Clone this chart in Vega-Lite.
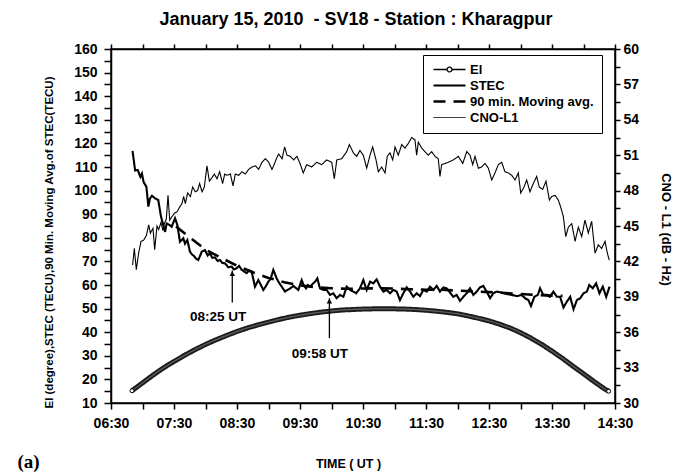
{
  "$schema": "https://vega.github.io/schema/vega-lite/v6.json",
  "width": 504,
  "height": 354,
  "autosize": "none",
  "padding": {"left": 111, "top": 49, "right": 68, "bottom": 72},
  "background": "white",
  "title": {
    "text": "January 15, 2010 \u00a0- SV18 - Station : Kharagpur",
    "font": "Liberation Sans",
    "fontSize": 18,
    "fontWeight": "bold",
    "color": "black",
    "offset": 13,
    "dx": -7
  },
  "config": {
    "view": {"stroke": "black", "strokeWidth": 1.5},
    "axis": {
      "grid": false,
      "domainColor": "black",
      "domainWidth": 1.5,
      "tickColor": "black",
      "tickWidth": 1.5,
      "labelFont": "Liberation Sans",
      "labelFontWeight": "bold",
      "labelFontSize": 14,
      "labelColor": "black",
      "labelOverlap": false,
      "labelFlush": false,
      "titleFont": "Liberation Sans",
      "titleFontWeight": "bold",
      "titleColor": "black"
    }
  },
  "datasets": {
    "el": [
      {"t":410,"v":15.2},{"t":420,"v":18.5},{"t":430,"v":21.8},{"t":440,"v":24.9},{"t":450,"v":27.6},{"t":460,"v":30.2},{"t":470,"v":32.6},{"t":480,"v":34.8},{"t":490,"v":36.8},{"t":500,"v":38.6},{"t":510,"v":40.3},{"t":520,"v":41.8},{"t":530,"v":43.1},{"t":540,"v":44.3},{"t":550,"v":45.4},{"t":560,"v":46.4},{"t":570,"v":47.2},{"t":580,"v":47.9},{"t":590,"v":48.5},{"t":600,"v":49.0},{"t":610,"v":49.4},{"t":620,"v":49.6},{"t":630,"v":49.8},{"t":640,"v":49.9},{"t":650,"v":49.9},{"t":660,"v":49.9},{"t":670,"v":49.8},{"t":680,"v":49.6},{"t":690,"v":49.3},{"t":700,"v":48.9},{"t":710,"v":48.4},{"t":720,"v":47.8},{"t":730,"v":46.9},{"t":740,"v":45.9},{"t":750,"v":44.8},{"t":760,"v":43.4},{"t":770,"v":41.8},{"t":780,"v":39.8},{"t":790,"v":37.5},{"t":800,"v":34.9},{"t":810,"v":32.0},{"t":820,"v":28.9},{"t":830,"v":25.6},{"t":840,"v":22.4},{"t":850,"v":19.1},{"t":860,"v":16.0},{"t":864,"v":15.0}
    ],
    "stec": [
      {"t":410.5,"v":116.8},{"t":413,"v":108.5},{"t":415.5,"v":108.7},{"t":418,"v":105.8},{"t":419.5,"v":107.2},{"t":421,"v":103.7},{"t":423.7,"v":101.6},{"t":425.6,"v":93.2},{"t":427,"v":96.5},{"t":429,"v":97.8},{"t":432,"v":96.7},{"t":435,"v":96},{"t":437.6,"v":89},{"t":439.8,"v":85.4},{"t":441.5,"v":82.5},{"t":443,"v":86.1},{"t":445.5,"v":85.5},{"t":447.8,"v":84.7},{"t":451,"v":88.3},{"t":453.2,"v":85.4},{"t":455.7,"v":78.3},{"t":458.9,"v":79.8},{"t":460.5,"v":77.5},{"t":462.7,"v":79.1},{"t":465.2,"v":74.1},{"t":467,"v":73},{"t":469,"v":72.3},{"t":471,"v":71.2},{"t":473.1,"v":70.6},{"t":474.5,"v":72},{"t":476.4,"v":74.1},{"t":479.5,"v":74.8},{"t":482,"v":72.5},{"t":484.3,"v":73.4},{"t":486.5,"v":71.5},{"t":489,"v":71.7},{"t":491.5,"v":70.2},{"t":493.8,"v":70.6},{"t":496,"v":69.3},{"t":498.6,"v":69.2},{"t":501.7,"v":67.5},{"t":505,"v":67.8},{"t":507,"v":66.6},{"t":509.7,"v":67.1},{"t":512,"v":68.1},{"t":514.5,"v":66.4},{"t":517,"v":65.7},{"t":519.2,"v":65},{"t":521.5,"v":66.2},{"t":524,"v":65.6},{"t":527.1,"v":59.3},{"t":530.3,"v":62.1},{"t":532.5,"v":60.2},{"t":535.1,"v":57.9},{"t":537.5,"v":59.5},{"t":539.8,"v":61.4},{"t":542,"v":62.5},{"t":544.6,"v":66.4},{"t":547.8,"v":62.8},{"t":550,"v":61},{"t":552.6,"v":59.3},{"t":555.7,"v":57.2},{"t":558,"v":57.9},{"t":560.5,"v":58.5},{"t":563.6,"v":59.6},{"t":566,"v":58.8},{"t":568.4,"v":57.9},{"t":571.6,"v":62.1},{"t":573.5,"v":59.8},{"t":575.7,"v":58.6},{"t":577.5,"v":60},{"t":579.5,"v":59.3},{"t":582.7,"v":60.7},{"t":584.6,"v":61.5},{"t":586.5,"v":62.8},{"t":589,"v":58.6},{"t":592.2,"v":57.9},{"t":595.4,"v":57.9},{"t":598.6,"v":55.8},{"t":601.7,"v":56.5},{"t":604.9,"v":54.4},{"t":608.1,"v":55.8},{"t":611.3,"v":55},{"t":614.5,"v":59.3},{"t":617.6,"v":57.9},{"t":620.8,"v":57.2},{"t":623.5,"v":56.5},{"t":627.1,"v":58.6},{"t":630.3,"v":62.1},{"t":633.5,"v":57.9},{"t":636.7,"v":61.4},{"t":639.8,"v":60.7},{"t":643,"v":62.4},{"t":646.2,"v":59.3},{"t":649.4,"v":57.2},{"t":652.6,"v":57.9},{"t":655.7,"v":56.5},{"t":658.9,"v":57.9},{"t":662.1,"v":57.2},{"t":665.2,"v":53.6},{"t":668.4,"v":56.5},{"t":671.6,"v":59},{"t":674.8,"v":57.2},{"t":678,"v":55},{"t":681.1,"v":56.5},{"t":684.3,"v":55.3},{"t":687.5,"v":57.9},{"t":690.7,"v":57.2},{"t":693.8,"v":59.3},{"t":697,"v":57.9},{"t":700.2,"v":59.6},{"t":703.3,"v":57.2},{"t":706.5,"v":59},{"t":709.7,"v":58.6},{"t":712.9,"v":56.8},{"t":716,"v":55},{"t":719.2,"v":55.8},{"t":722.4,"v":53.3},{"t":725.6,"v":55},{"t":728.8,"v":56.5},{"t":731.9,"v":58.6},{"t":735.1,"v":55.8},{"t":738.3,"v":57.2},{"t":741.4,"v":59},{"t":744.6,"v":59.6},{"t":747.8,"v":57.2},{"t":751,"v":54.4},{"t":754.1,"v":56.5},{"t":757.3,"v":57.2},{"t":762.1,"v":56.8},{"t":766.9,"v":56.2},{"t":771.6,"v":55.8},{"t":776.4,"v":55.3},{"t":781.1,"v":55.8},{"t":784.3,"v":54.4},{"t":787.5,"v":53.6},{"t":790,"v":51.1},{"t":793.2,"v":55},{"t":796.5,"v":55.8},{"t":798.6,"v":58.6},{"t":801.7,"v":55.8},{"t":805,"v":55.8},{"t":808,"v":55},{"t":811.3,"v":57.2},{"t":814.6,"v":55},{"t":817.7,"v":55},{"t":820.9,"v":50.5},{"t":824.1,"v":52.9},{"t":827.3,"v":55},{"t":830.5,"v":49.7},{"t":833.7,"v":53.6},{"t":836.9,"v":54.4},{"t":840,"v":56.5},{"t":843.2,"v":57.2},{"t":845.5,"v":60},{"t":848.8,"v":58.6},{"t":852,"v":60.7},{"t":855.2,"v":56.5},{"t":858.4,"v":59.3},{"t":861.6,"v":55},{"t":864.8,"v":59.3}
    ],
    "avg": [
      {"t":452,"v":84.8},{"t":465,"v":80.2},{"t":480,"v":75},{"t":495,"v":71.5},{"t":510,"v":68.2},{"t":525,"v":65.4},{"t":540,"v":63},{"t":555,"v":61.2},{"t":570,"v":59.9},{"t":585,"v":59},{"t":600,"v":58.6},{"t":615,"v":58.4},{"t":630,"v":58.5},{"t":645,"v":58.6},{"t":660,"v":58.5},{"t":675,"v":58.2},{"t":690,"v":58},{"t":705,"v":58},{"t":720,"v":57.6},{"t":735,"v":57.3},{"t":750,"v":57},{"t":765,"v":56.6},{"t":780,"v":56.2},{"t":795,"v":55.8},{"t":810,"v":55.5},{"t":820,"v":55.4}
    ],
    "cno": [
      {"t":410.6,"v":41.7},{"t":412.2,"v":43.1},{"t":414.1,"v":41.3},{"t":416.3,"v":42.7},{"t":418.6,"v":43.7},{"t":421.1,"v":43.8},{"t":423.7,"v":44.2},{"t":425.9,"v":45.1},{"t":427.5,"v":44.4},{"t":430,"v":44.8},{"t":431.6,"v":43},{"t":433.8,"v":45},{"t":435.4,"v":44.7},{"t":437.6,"v":45.3},{"t":439.5,"v":44.6},{"t":440.8,"v":45.2},{"t":442.7,"v":45.6},{"t":444.3,"v":47.6},{"t":445.9,"v":45.5},{"t":448.1,"v":45.8},{"t":450.6,"v":46.1},{"t":452.9,"v":46.2},{"t":455.4,"v":46.6},{"t":457.6,"v":46.9},{"t":459.2,"v":47.5},{"t":460.8,"v":46.9},{"t":463,"v":47.8},{"t":465.6,"v":47.5},{"t":467.8,"v":48.3},{"t":470.3,"v":47.9},{"t":472.5,"v":48},{"t":474.4,"v":48.6},{"t":476.7,"v":47.9},{"t":478.9,"v":48.3},{"t":481.4,"v":50.1},{"t":483.7,"v":48.8},{"t":486.2,"v":49.1},{"t":488.4,"v":49.4},{"t":491,"v":49},{"t":493.5,"v":49.6},{"t":496.3,"v":48.6},{"t":498.3,"v":49.4},{"t":500.5,"v":49.3},{"t":503.7,"v":49.4},{"t":506.2,"v":48.4},{"t":508.4,"v":49.4},{"t":511.6,"v":49.3},{"t":514.8,"v":49.6},{"t":517.9,"v":49.4},{"t":521.1,"v":49.8},{"t":524.3,"v":50},{"t":527.5,"v":50.1},{"t":530.6,"v":49.8},{"t":533.8,"v":50.4},{"t":537,"v":50.7},{"t":540.2,"v":50.4},{"t":543.3,"v":49.8},{"t":544.9,"v":50.1},{"t":547.5,"v":50.7},{"t":549.7,"v":51.1},{"t":552.9,"v":50.7},{"t":555.4,"v":51.7},{"t":557.6,"v":51},{"t":560.8,"v":50.9},{"t":564,"v":50.6},{"t":567.1,"v":50.9},{"t":570,"v":50.3},{"t":573.1,"v":49.5},{"t":576.4,"v":50.2},{"t":581.1,"v":50},{"t":585.9,"v":50.4},{"t":590.7,"v":50.2},{"t":595.4,"v":50.6},{"t":600.2,"v":50.4},{"t":602.7,"v":49},{"t":605,"v":50.6},{"t":609.7,"v":50.7},{"t":614.5,"v":51.3},{"t":617,"v":51.9},{"t":620.8,"v":51.2},{"t":624,"v":50.9},{"t":627.1,"v":51.4},{"t":630.3,"v":51},{"t":633.5,"v":49.9},{"t":636.7,"v":51},{"t":639.2,"v":51.7},{"t":642.4,"v":50.6},{"t":644.6,"v":49.6},{"t":647.8,"v":50},{"t":651,"v":49.5},{"t":653.1,"v":50.9},{"t":655.7,"v":51.2},{"t":658.3,"v":50.6},{"t":660.5,"v":51.7},{"t":663.6,"v":51},{"t":666.9,"v":51.9},{"t":670,"v":51.6},{"t":673.2,"v":52},{"t":676.4,"v":52.5},{"t":679.5,"v":52.3},{"t":681.1,"v":51},{"t":682.7,"v":52.1},{"t":685.9,"v":51.6},{"t":689,"v":51.3},{"t":692.2,"v":51},{"t":695.4,"v":51.3},{"t":698.6,"v":50.9},{"t":701.7,"v":50.7},{"t":703.3,"v":49.2},{"t":704.9,"v":50.2},{"t":708.1,"v":50.3},{"t":711.2,"v":50.4},{"t":716,"v":50.6},{"t":720.8,"v":50.9},{"t":725,"v":50.3},{"t":728.8,"v":51.3},{"t":731.9,"v":51},{"t":734.5,"v":50.2},{"t":736.7,"v":50.9},{"t":739.9,"v":49.9},{"t":743.1,"v":50},{"t":746.2,"v":50.3},{"t":749.4,"v":49.9},{"t":752.6,"v":48.9},{"t":755.7,"v":49.5},{"t":758.9,"v":50.2},{"t":762.1,"v":50.4},{"t":765.2,"v":49.6},{"t":768.4,"v":49.5},{"t":771.6,"v":49.3},{"t":774.8,"v":48.9},{"t":777.9,"v":49.5},{"t":780.2,"v":47.8},{"t":783.3,"v":48.3},{"t":785.9,"v":48.9},{"t":789,"v":47.9},{"t":792.2,"v":48.6},{"t":795.4,"v":49.2},{"t":797.9,"v":48.3},{"t":801.1,"v":48.1},{"t":804.3,"v":48.8},{"t":807.5,"v":47.2},{"t":809.7,"v":47.5},{"t":812.9,"v":47.6},{"t":816,"v":47.2},{"t":818.3,"v":46.6},{"t":820.8,"v":45.8},{"t":823.1,"v":44.1},{"t":825.6,"v":44.9},{"t":828.8,"v":45.2},{"t":832,"v":43.7},{"t":835.1,"v":44.9},{"t":838.3,"v":44.1},{"t":841.4,"v":45.5},{"t":844.6,"v":44.4},{"t":847.8,"v":45.4},{"t":851,"v":42.7},{"t":854.1,"v":43.4},{"t":857.3,"v":43.1},{"t":860.5,"v":43.7},{"t":862.7,"v":42.7},{"t":864.6,"v":42.1}
    ],
    "arrows": [
      {"t":505.5,"v1":52.6,"v2":66.1},
      {"t":598,"v1":37.5,"v2":54.4}
    ],
    "notes": [
      {"t":492,"v":46.4,"label":"08:25 UT"},
      {"t":589,"v":30.8,"label":"09:58 UT"}
    ],
    "panel": [
      {"t":311.4,"v":-15,"label":"(a)"}
    ]
  },
  "resolve": {"scale": {"y": "independent"}, "axis": {"x": "independent"}},
  "layer": [
    {
      "data": {"name": "el"},
      "mark": {"type": "line", "color": "#1a1a1a", "strokeWidth": 5},
      "encoding": {
        "x": {
          "field": "t", "type": "quantitative",
          "scale": {"domain": [390, 870], "nice": false, "zero": false},
          "axis": {
            "orient": "bottom",
            "values": [390,420,450,480,510,540,570,600,630,660,690,720,750,780,810,840,870],
            "labelExpr": "(datum.value-390)%60===0 ? (datum.value<600?'0':'')+floor(datum.value/60)+':30' : ''",
            "tickSize": 6,
            "labelPadding": 7,
            "title": "TIME ( UT )",
            "titleFontSize": 12.5,
            "titleX": 237,
            "titleY": 60,
            "titleBaseline": "middle",
            "titleAlign": "center",
            "encode": {"ticks": {"update": {"y2": {"signal": "(datum.value-390)%60===0 ? 6 : 3"}}}}
          }
        },
        "y": {
          "field": "v", "type": "quantitative",
          "scale": {"domain": [10, 160], "nice": false, "zero": false},
          "axis": {
            "orient": "left",
            "values": [10,15,20,25,30,35,40,45,50,55,60,65,70,75,80,85,90,95,100,105,110,115,120,125,130,135,140,145,150,155,160],
            "labelExpr": "datum.value % 10 === 0 ? datum.label : ''",
            "tickSize": 7,
            "labelPadding": 7,
            "title": "El (degree),STEC (TECU),90 Min. Moving Avg.of STEC(TECU)",
            "titleFontSize": 11.5,
            "titleX": -62,
            "titleY": 193,
            "titleBaseline": "middle",
            "titleAlign": "center",
            "encode": {"ticks": {"update": {"x2": {"signal": "datum.value % 10 === 0 ? -7 : -4"}}}}
          }
        },
        "strokeDash": {
          "datum": "El", "type": "nominal",
          "scale": {
            "domain": ["El", "STEC", "90 min. Moving avg.", "CNO-L1"],
            "range": [[1, 0], [1, 0], [12, 8], [1, 0]]
          },
          "legend": {
            "title": null,
            "orient": "none",
            "legendX": 312,
            "legendY": 6,
            "strokeColor": "black",
            "fillColor": "white",
            "padding": 8,
            "symbolType": "M-4,0H4",
            "symbolSize": 64,
            "symbolStrokeColor": "black",
            "symbolStrokeWidth": 2,
            "symbolOffset": 12,
            "labelOffset": 14,
            "labelFont": "Liberation Sans",
            "labelFontSize": 13,
            "labelFontWeight": "bold",
            "labelColor": "black",
            "rowPadding": 2,
            "encode": {
              "symbols": {
                "update": {
                  "shape": {"signal": "datum.value === 'El' ? 'M-4,0H-0.6M0.6,0H4M-0.6,0A0.6,0.6 0 1,0 0.6,0A0.6,0.6 0 1,0 -0.6,0' : 'M-4,0H4'"},
                  "strokeWidth": {"signal": "datum.value === 'STEC' ? 2 : datum.value === 'CNO-L1' ? 1 : datum.value === 'El' ? 1.3 : 2.6"},
                  "stroke": {"value": "black"},
                  "fill": {"value": "white"}
                }
              }
            }
          }
        }
      }
    },
    {
      "data": {"name": "el"},
      "mark": {"type": "line", "color": "#5a5a5a", "strokeWidth": 1.4},
      "encoding": {
        "x": {"field": "t", "type": "quantitative", "scale": {"domain": [390, 870], "nice": false, "zero": false}, "axis": null},
        "y": {"field": "v", "type": "quantitative", "scale": {"domain": [10, 160], "nice": false, "zero": false}, "axis": null}
      }
    },
    {
      "data": {"name": "el"},
      "transform": [{"filter": "datum.t === 410 || datum.t === 864"}],
      "mark": {"type": "point", "filled": true, "fill": "white", "stroke": "black", "strokeWidth": 1, "size": 16, "opacity": 1},
      "encoding": {
        "x": {"field": "t", "type": "quantitative", "scale": {"domain": [390, 870], "nice": false, "zero": false}, "axis": null},
        "y": {"field": "v", "type": "quantitative", "scale": {"domain": [10, 160], "nice": false, "zero": false}, "axis": null}
      }
    },
    {
      "data": {"name": "stec"},
      "mark": {"type": "line", "color": "black", "strokeWidth": 2.1},
      "encoding": {
        "x": {
          "field": "t", "type": "quantitative",
          "scale": {"domain": [390, 870], "nice": false, "zero": false},
          "axis": {
            "orient": "top",
            "values": [390,420,450,480,510,540,570,600,630,660,690,720,750,780,810,840,870],
            "labels": false,
            "title": null,
            "tickSize": 5,
            "encode": {"ticks": {"update": {"y2": {"value": 5}}}}
          }
        },
        "y": {"field": "v", "type": "quantitative", "scale": {"domain": [10, 160], "nice": false, "zero": false}, "axis": null},
        "strokeDash": {"datum": "STEC", "type": "nominal"}
      }
    },
    {
      "data": {"name": "avg"},
      "mark": {"type": "line", "color": "black", "strokeWidth": 2.6},
      "encoding": {
        "x": {"field": "t", "type": "quantitative", "scale": {"domain": [390, 870], "nice": false, "zero": false}, "axis": null},
        "y": {"field": "v", "type": "quantitative", "scale": {"domain": [10, 160], "nice": false, "zero": false}, "axis": null},
        "strokeDash": {"datum": "90 min. Moving avg.", "type": "nominal"}
      }
    },
    {
      "data": {"name": "cno"},
      "mark": {"type": "line", "color": "black", "strokeWidth": 1.1},
      "encoding": {
        "x": {"field": "t", "type": "quantitative", "scale": {"domain": [390, 870], "nice": false, "zero": false}, "axis": null},
        "y": {
          "field": "v", "type": "quantitative",
          "scale": {"domain": [30, 60], "nice": false, "zero": false},
          "axis": {
            "orient": "right",
            "values": [30,31.5,33,34.5,36,37.5,39,40.5,42,43.5,45,46.5,48,49.5,51,52.5,54,55.5,57,58.5,60],
            "labelExpr": "datum.value % 3 === 0 ? datum.label : ''",
            "tickSize": 5,
            "labelPadding": 3,
            "title": "CNO - L1 (dB - Hz)",
            "titleFontSize": 13,
            "titleAngle": 90,
            "titleX": 50,
            "titleY": 180,
            "titleBaseline": "middle",
            "titleAlign": "center",
            "encode": {"ticks": {"update": {"x2": {"signal": "datum.value % 3 === 0 ? 5 : 3"}}}}
          }
        },
        "strokeDash": {"datum": "CNO-L1", "type": "nominal"}
      }
    },
    {
      "data": {"name": "arrows"},
      "mark": {"type": "rule", "color": "black", "strokeWidth": 1.3},
      "encoding": {
        "x": {"field": "t", "type": "quantitative", "scale": {"domain": [390, 870], "nice": false, "zero": false}, "axis": null},
        "y": {"field": "v1", "type": "quantitative", "scale": {"domain": [10, 160], "nice": false, "zero": false}, "axis": null},
        "y2": {"field": "v2"}
      }
    },
    {
      "data": {"name": "arrows"},
      "mark": {"type": "point", "shape": "triangle-up", "filled": true, "color": "black", "size": 30, "yOffset": 3, "opacity": 1},
      "encoding": {
        "x": {"field": "t", "type": "quantitative", "scale": {"domain": [390, 870], "nice": false, "zero": false}, "axis": null},
        "y": {"field": "v2", "type": "quantitative", "scale": {"domain": [10, 160], "nice": false, "zero": false}, "axis": null}
      }
    },
    {
      "data": {"name": "notes"},
      "mark": {"type": "text", "font": "Liberation Sans", "fontWeight": "bold", "fontSize": 13.5, "color": "black", "align": "center", "baseline": "middle"},
      "encoding": {
        "x": {"field": "t", "type": "quantitative", "scale": {"domain": [390, 870], "nice": false, "zero": false}, "axis": null},
        "y": {"field": "v", "type": "quantitative", "scale": {"domain": [10, 160], "nice": false, "zero": false}, "axis": null},
        "text": {"field": "label"}
      }
    },
    {
      "data": {"name": "panel"},
      "mark": {"type": "text", "font": "Liberation Serif", "fontWeight": "bold", "fontSize": 19, "color": "black", "align": "center", "baseline": "middle", "clip": false},
      "encoding": {
        "x": {"field": "t", "type": "quantitative", "scale": {"domain": [390, 870], "nice": false, "zero": false}, "axis": null},
        "y": {"field": "v", "type": "quantitative", "scale": {"domain": [10, 160], "nice": false, "zero": false}, "axis": null},
        "text": {"field": "label"}
      }
    }
  ]
}
